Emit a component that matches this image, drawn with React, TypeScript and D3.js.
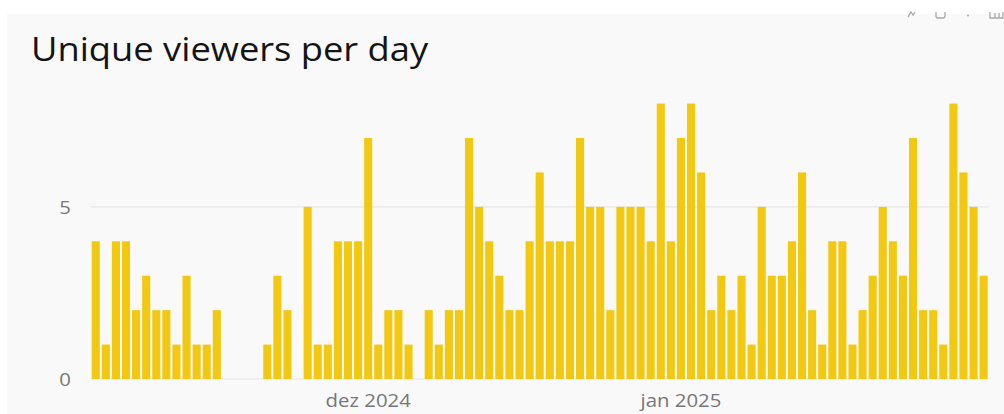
import * as d3 from 'd3'

// Unique viewers per day, 4 Nov 2024 .. 31 Jan 2025
const firstDay = new Date(2024, 10, 4)
const viewers = [
  4, 1, 4, 4, 2, 3, 2, 2, 1, 3, 1, 1, 2, 0, 0, 0, 0, 1, 3, 2, 0, 5, 1, 1, 4,
  4, 4, 7, 1, 2, 2, 1, 0, 2, 1, 2, 2, 7, 5, 4, 3, 2, 2, 4, 6, 4, 4, 4, 7, 5, 5, 2, 5, 5, 5, 4, 8,
  4, 7, 8, 6, 2, 3, 2, 3, 1, 5, 3, 3, 4, 6, 2, 1, 4, 4, 1, 2, 3, 5, 4, 3, 7, 2, 2, 1, 8, 6, 5, 3,
]
const days = viewers.map((_, i) => d3.timeDay.offset(firstDay, i))
const yTickValues = [0, 5]
const xTickDates = [new Date(2024, 11, 1), new Date(2025, 0, 1)]
const xTickLabels = ['dez 2024', 'jan 2025']
const title = 'Unique viewers per day'

const W = 1004
const H = 414
const plot = { left: 90.7, right: 988.7, top: 89.8, bottom: 379 }
const barColor = '#F2C811'
const labelColor = '#777'
const font = '"Open Sans", "Noto Sans", sans-serif'
const stretch = 1.1 // text in the reference is a bit wider than it is tall

export default function App() {
  const half = 12 * 3600 * 1000
  const x = d3
    .scaleTime()
    .domain([new Date(days[0].getTime() - half), new Date(days[days.length - 1].getTime() + half)])
    .range([plot.left, plot.right])
  const y = d3
    .scaleLinear()
    .domain([0, (d3.max(viewers) ?? 1) * 1.05])
    .range([plot.bottom, plot.top])

  const slot = x(days[1]) - x(days[0])
  const barW = slot * 0.8

  return (
    <svg
      width={W}
      height={H}
      style={{ position: 'absolute', left: 0, top: 0, display: 'block' }}
      fontFamily={font}
    >
      <rect x={0} y={0} width={W} height={H} fill="#fff" />
      <rect x={7} y={14} width={W - 7} height={H - 14} fill="#f9f9f9" />

      {/* modebar remnants, top right */}
      <g fill="none" stroke="#a8a8a8" strokeWidth={1.3}>
        <path d="M908,17 L911,12 L913,15 L915,12" />
        <path d="M936,12 L936,16 Q936,18 938,18 L943,18 Q945,18 945,16 L945,12" />
        <circle cx={968} cy={15.5} r={1} fill="#a8a8a8" stroke="none" />
        <path d="M990,12 L990,18 L1003,18 L1003,12 M995,13 L995,18 M999,13 L999,18" />
      </g>

      <text
        transform={`translate(31,61) scale(${stretch},1)`}
        fontSize={33}
        fill="#141414"
      >
        {title}
      </text>

      {yTickValues.map((v) => (
        <g key={v}>
          <line
            x1={plot.left}
            x2={plot.right}
            y1={y(v)}
            y2={y(v)}
            stroke="#e6e6e6"
            strokeWidth={1.2}
          />
          <text
            transform={`translate(71,${y(v)}) scale(${stretch},1)`}
            textAnchor="end"
            dominantBaseline="central"
            fontSize={18.5}
            fill={labelColor}
          >
            {v}
          </text>
        </g>
      ))}

      {viewers.map((v, i) =>
        v > 0 ? (
          <rect
            key={i}
            x={x(days[i]) - barW / 2}
            y={y(v)}
            width={barW}
            height={y(0) - y(v)}
            fill={barColor}
          />
        ) : null,
      )}

      {xTickDates.map((d, i) => (
        <text
          key={i}
          transform={`translate(${x(d)},407) scale(${stretch},1)`}
          textAnchor="middle"
          fontSize={18.5}
          fill={labelColor}
        >
          {xTickLabels[i]}
        </text>
      ))}
    </svg>
  )
}
